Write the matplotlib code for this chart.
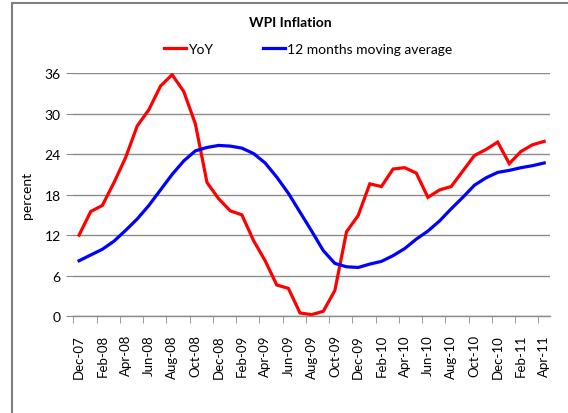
import matplotlib
matplotlib.use("Agg")
import matplotlib.pyplot as plt
from matplotlib.patches import Rectangle

months = ["Dec-07","Jan-08","Feb-08","Mar-08","Apr-08","May-08","Jun-08","Jul-08","Aug-08","Sep-08",
          "Oct-08","Nov-08","Dec-08","Jan-09","Feb-09","Mar-09","Apr-09","May-09","Jun-09","Jul-09",
          "Aug-09","Sep-09","Oct-09","Nov-09","Dec-09","Jan-10","Feb-10","Mar-10","Apr-10","May-10",
          "Jun-10","Jul-10","Aug-10","Sep-10","Oct-10","Nov-10","Dec-10","Jan-11","Feb-11","Mar-11","Apr-11"]

yoy = [12.0, 15.5, 16.4, 19.8, 23.5, 28.2, 30.6, 34.1, 35.8, 33.3,
       28.5, 19.8, 17.4, 15.6, 15.0, 11.2, 8.2, 4.6, 4.1, 0.45,
       0.2, 0.7, 3.8, 12.5, 14.9, 19.6, 19.2, 21.8, 22.0, 21.2,
       17.6, 18.7, 19.2, 21.5, 23.8, 24.7, 25.8, 22.6, 24.4, 25.4, 25.9]

ma12 = [8.2, 9.05, 9.9, 11.1, 12.7, 14.4, 16.4, 18.7, 21.0, 23.0,
        24.5, 25.0, 25.3, 25.2, 24.9, 24.1, 22.7, 20.6, 18.2, 15.4,
        12.6, 9.7, 7.8, 7.3, 7.2, 7.7, 8.1, 8.95, 10.0, 11.4,
        12.6, 14.1, 15.9, 17.6, 19.4, 20.5, 21.3, 21.6, 22.0, 22.3, 22.7]

yticks = [0, 6, 12, 18, 24, 30, 36]

plt.rcParams['font.family'] = ['Lato', 'DejaVu Sans']

fig = plt.figure(figsize=(5.68, 4.14), dpi=100)
ax = fig.add_axes([73.3/568, 1-317/414, (550-73.3)/568, (317-74.3)/414])

x = list(range(len(months)))
ax.plot(x, yoy, color='#ff0000', lw=2.3, label='YoY', solid_joinstyle='miter')
ax.plot(x, ma12, color='#0000ff', lw=2.3, label='12 months moving average')

ax.set_xlim(-0.5, len(months) - 0.5)
ax.set_ylim(0, 36)
ax.set_yticks(yticks)
ax.set_yticklabels([str(v) for v in yticks], fontsize=10)
ax.yaxis.grid(True, color='#8c8c8c', lw=1)
ax.set_axisbelow(True)

ax.set_xticks(x[::2])
ax.set_xticklabels(months[::2], rotation=90, fontsize=9.5)
ax.set_xticks([i - 0.5 for i in range(0, len(months), 2)], minor=True)
ax.tick_params(axis='x', which='major', length=0, pad=13)
ax.tick_params(axis='x', which='minor', length=5, color='#8c8c8c', direction='out')
ax.tick_params(axis='y', length=5, color='#8c8c8c', pad=4)

for s in ['top', 'right', 'left']:
    ax.spines[s].set_visible(False)
ax.spines['bottom'].set_color('#8c8c8c')
ax.spines['bottom'].set_linewidth(1)

ax.set_ylabel('percent', fontsize=10, labelpad=8)
fig.text(290/568, 1-23/414, 'WPI Inflation', ha='center', va='center', fontsize=10, fontweight='bold')

leg = fig.legend(loc='center', bbox_to_anchor=(308/568, 1-50/414), ncol=2, frameon=False,
                 fontsize=10, handlelength=1.6, handletextpad=0.15, columnspacing=3.6)

fig.patches.append(Rectangle((12/568, -0.05), 1.0, 1 - 3.6/414 + 0.05, transform=fig.transFigure,
                             fill=False, edgecolor='#7f7f7f', lw=1.5))

fig.savefig('out.png', dpi=100)
